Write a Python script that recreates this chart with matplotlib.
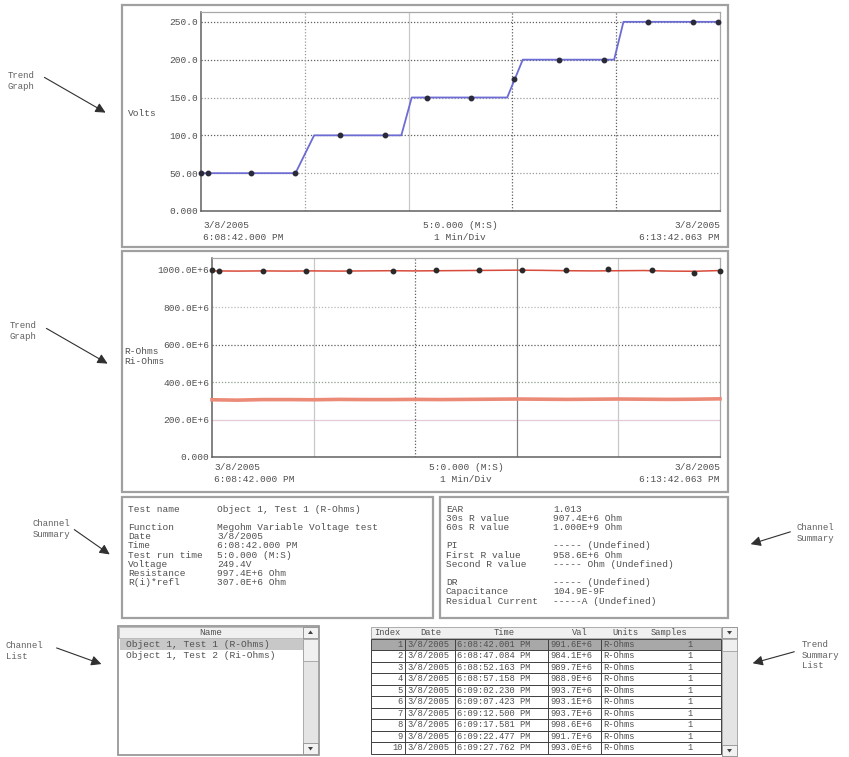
import matplotlib
matplotlib.use("Agg")
import matplotlib.pyplot as plt
from matplotlib.patches import Rectangle, Polygon

W, H = 849, 757
MONO = "Liberation Mono"

# ---------------- data ----------------
# Top trend graph (Volts vs minutes)
volt_line_t = [0.0, 0.91, 1.09, 1.93, 2.03, 2.95, 3.10, 3.98, 4.07, 5.0]
volt_line_v = [50, 50, 100, 100, 150, 150, 200, 200, 250, 250]
volt_pts_t = [0.0, 0.07, 0.48, 0.91, 1.34, 1.77, 2.18, 2.60, 3.02, 3.45, 3.88, 4.31, 4.74, 4.98]
volt_pts_v = [50, 50, 50, 50, 100, 100, 150, 150, 174, 200, 200, 250, 250, 250]
volt_yticks = [0, 50, 100, 150, 200, 250]
volt_ylabels = ["0.000", "50.00", "100.0", "150.0", "200.0", "250.0"]

# Second trend graph (Ohms, in units of 1e6)
r_line_t = [0.0, 0.25, 0.5, 0.75, 1.0, 1.25, 1.5, 1.75, 2.0, 2.25, 2.5,
            2.75, 3.0, 3.25, 3.5, 3.75, 4.0, 4.25, 4.5, 4.75, 5.0]
r_line_v = [995, 994, 995, 994, 995, 994, 995, 996, 995, 996, 997,
            998, 999, 998, 996, 995, 996, 997, 994, 993, 997]
ri_line_v = [306, 304, 307, 307, 306, 308, 307, 307, 308, 307, 308,
             309, 310, 309, 308, 309, 310, 309, 308, 309, 311]
r_pts_t = [0.0, 0.07, 0.50, 0.93, 1.35, 1.78, 2.20, 2.63, 3.05, 3.48, 3.90, 4.33, 4.74, 5.0]
r_pts_v = [998, 997, 996, 997, 996, 995, 998, 1000, 1001, 1000, 1003, 1001, 985, 997]
ohm_yticks = [0, 200, 400, 600, 800, 1000]
ohm_ylabels = ["0.000", "200.0E+6", "400.0E+6", "600.0E+6", "800.0E+6", "1000.0E+6"]

x_start = ["3/8/2005", "6:08:42.000 PM"]
x_mid = ["5:0.000 (M:S)", "1 Min/Div"]
x_end = ["3/8/2005", "6:13:42.063 PM"]

summary_left_labels = ["Test name", "", "Function", "Date", "Time", "Test run time",
                       "Voltage", "Resistance", "R(i)*refl"]
summary_left_values = ["Object 1, Test 1 (R-Ohms)", "", "Megohm Variable Voltage test",
                       "3/8/2005", "6:08:42.000 PM", "5:0.000 (M:S)", "249.4V",
                       "997.4E+6 Ohm", "307.0E+6 Ohm"]
summary_right_labels = ["EAR", "30s R value", "60s R value", "", "PI", "First R value",
                        "Second R value", "", "DR", "Capacitance", "Residual Current"]
summary_right_values = ["1.013", "907.4E+6 Ohm", "1.000E+9 Ohm", "", "----- (Undefined)",
                        "958.6E+6 Ohm", "----- Ohm (Undefined)", "", "----- (Undefined)",
                        "104.9E-9F", "-----A (Undefined)"]

channel_names = ["Object 1, Test 1 (R-Ohms)", "Object 1, Test 2 (Ri-Ohms)"]

tbl_header = ["Index", "Date", "Time", "Val", "Units", "Samples"]
tbl_index = [1, 2, 3, 4, 5, 6, 7, 8, 9, 10]
tbl_date = ["3/8/2005"] * 10
tbl_time = ["6:08:42.001 PM", "6:08:47.084 PM", "6:08:52.163 PM", "6:08:57.158 PM",
            "6:09:02.230 PM", "6:09:07.423 PM", "6:09:12.500 PM", "6:09:17.581 PM",
            "6:09:22.477 PM", "6:09:27.762 PM"]
tbl_val = ["991.6E+6", "984.1E+6", "989.7E+6", "988.9E+6", "993.7E+6",
           "993.1E+6", "993.7E+6", "998.6E+6", "991.7E+6", "993.0E+6"]
tbl_units = ["R-Ohms"] * 10
tbl_samples = [1] * 10

# ---------------- figure ----------------
fig = plt.figure(figsize=(W / 100, H / 100), dpi=100)
fig.patch.set_facecolor("white")

bg = fig.add_axes([0, 0, 1, 1], zorder=0)
bg.set_xlim(0, W)
bg.set_ylim(H, 0)
bg.axis("off")


def add_ax(x0, y0, x1, y1):
    return fig.add_axes([x0 / W, 1 - y1 / H, (x1 - x0) / W, (y1 - y0) / H], zorder=2)


def frame(x0, y0, x1, y1, ec="#a0a0a0", lw=1.6):
    bg.add_patch(Rectangle((x0, y0), x1 - x0, y1 - y0, fill=False, ec=ec, lw=lw, zorder=1))


def style_plot(ax):
    ax.set_facecolor("white")
    for s in ("left", "bottom"):
        ax.spines[s].set_color("#606060")
        ax.spines[s].set_linewidth(1.1)
    for s in ("top", "right"):
        ax.spines[s].set_color("#a8a8a8")
        ax.spines[s].set_linewidth(0.9)
    ax.tick_params(length=0, pad=2, labelsize=6.8, labelcolor="#505050")
    for lab in ax.get_yticklabels():
        lab.set_family(MONO)
    ax.set_xticks([])
    ax.set_xlim(0, 5)


TXT = dict(family=MONO, color="#505050", fontsize=6.8)
TBL = dict(family=MONO, color="#505050", fontsize=6.3)

# ---- panel frames ----
frame(122, 5, 728, 247)
frame(122, 251, 728, 492)
frame(122, 497, 433, 618)
frame(440, 497, 728, 618)

# ---- Top trend graph ----
ax1 = add_ax(201, 12, 720, 211)
ax1.set_ylim(0, 263)
ax1.set_yticks(volt_yticks)
ax1.set_yticklabels(volt_ylabels)
style_plot(ax1)
for y, c in zip(volt_yticks[1:], ["#9a9a9a", "#606060", "#9a9a9a", "#606060", "#606060"]):
    ax1.axhline(y, color=c, lw=0.9, ls=(0, (1, 1.5)), zorder=1)
for x, c, ls in zip([1, 2, 3, 4], ["#9a9a9a", "#c8c8c8", "#606060", "#606060"],
                    [(0, (1, 1.5)), "-", (0, (1, 1.5)), (0, (1, 1.5))]):
    ax1.axvline(x, color=c, lw=0.9, ls=ls, zorder=1)
ax1.plot(volt_line_t, volt_line_v, color="#6c6cd4", lw=1.3, zorder=3, clip_on=False)
ax1.plot(volt_pts_t, volt_pts_v, "o", color="#2a2a3a", ms=3.2, zorder=4, clip_on=False)
bg.text(128, 113, "Volts", ha="left", va="center", **TXT)
bg.text(203, 226, x_start[0], ha="left", va="center", **TXT)
bg.text(203, 238, x_start[1], ha="left", va="center", **TXT)
bg.text(460, 226, x_mid[0], ha="center", va="center", **TXT)
bg.text(460, 238, x_mid[1], ha="center", va="center", **TXT)
bg.text(720, 226, x_end[0], ha="right", va="center", **TXT)
bg.text(720, 238, x_end[1], ha="right", va="center", **TXT)

# ---- Second trend graph ----
ax2 = add_ax(212, 258, 720, 457)
ax2.set_ylim(0, 1064)
ax2.set_yticks(ohm_yticks)
ax2.set_yticklabels(ohm_ylabels)
style_plot(ax2)
for y, c, ls in zip(ohm_yticks[1:5], ["#e6c8d6", "#8aa08a", "#606060", "#b8b8b8"],
                    ["-", (0, (1, 1.5)), (0, (1, 1.5)), (0, (1, 1.5))]):
    ax2.axhline(y, color=c, lw=0.9, ls=ls, zorder=1)
for x, c, ls in zip([1, 2, 3, 4], ["#c8c8c8", "#606060", "#808080", "#c8c8c8"],
                    ["-", (0, (1, 1.5)), "-", "-"]):
    ax2.axvline(x, color=c, lw=0.9, ls=ls, zorder=1)
ax2.plot(r_line_t, ri_line_v, color="#ec8a78", lw=2.6, zorder=3, clip_on=False)
ax2.plot(r_line_t, r_line_v, color="#d84a3a", lw=1.1, zorder=3, clip_on=False)
ax2.plot(r_pts_t, r_pts_v, "o", color="#2a2a2a", ms=3.2, zorder=4, clip_on=False)
bg.text(124, 352, "R-Ohms", ha="left", va="center", **TXT)
bg.text(124, 362, "Ri-Ohms", ha="left", va="center", **TXT)
bg.text(214, 468, x_start[0], ha="left", va="center", **TXT)
bg.text(214, 480, x_start[1], ha="left", va="center", **TXT)
bg.text(466, 468, x_mid[0], ha="center", va="center", **TXT)
bg.text(466, 480, x_mid[1], ha="center", va="center", **TXT)
bg.text(720, 468, x_end[0], ha="right", va="center", **TXT)
bg.text(720, 480, x_end[1], ha="right", va="center", **TXT)

# ---- Channel summary text ----
for i, (lab, val) in enumerate(zip(summary_left_labels, summary_left_values)):
    y = 509 + i * 9.2
    bg.text(128, y, lab, ha="left", va="center", **TXT)
    bg.text(217, y, val, ha="left", va="center", **TXT)
for i, (lab, val) in enumerate(zip(summary_right_labels, summary_right_values)):
    y = 509 + i * 9.2
    bg.text(446, y, lab, ha="left", va="center", **TXT)
    bg.text(553, y, val, ha="left", va="center", **TXT)

# ---- Channel list ----
frame(118, 626, 319, 755, ec="#909090", lw=1.2)
bg.add_patch(Rectangle((119, 627), 184, 11, fc="#f0f0f0", ec="#b0b0b0", lw=0.6, zorder=2))
bg.text(211, 632.5, "Name", ha="center", va="center", **TXT)
bg.add_patch(Rectangle((120, 639), 183, 11, fc="#c8c8c8", ec="none", zorder=2))
for i, name in enumerate(channel_names):
    bg.text(126, 644.5 + i * 11.5, name, ha="left", va="center", zorder=3, **TXT)
# scrollbar
bg.add_patch(Rectangle((303, 627), 15, 127, fc="#e4e4e4", ec="#a0a0a0", lw=0.6, zorder=2))
bg.add_patch(Rectangle((303, 627), 15, 11, fc="#f2f2f2", ec="#909090", lw=0.6, zorder=3))
bg.add_patch(Rectangle((303, 639), 15, 22, fc="#f0f0f0", ec="#a0a0a0", lw=0.6, zorder=3))
bg.add_patch(Rectangle((303, 743), 15, 11, fc="#f2f2f2", ec="#909090", lw=0.6, zorder=3))
bg.add_patch(Polygon([(308, 634), (313, 634), (310.5, 630.5)], fc="#404040", ec="none", zorder=4))
bg.add_patch(Polygon([(308, 747), (313, 747), (310.5, 750.5)], fc="#404040", ec="none", zorder=4))

# ---- Trend summary table ----
col_edges = [371, 405, 455, 548, 601, 650, 721]
row_h = 11.5
y_top = 627
bg.add_patch(Rectangle((371, y_top), 350, 11, fc="#f0f0f0", ec="#a0a0a0", lw=0.6, zorder=2))
head_x = [374, 420, 494, 572, 612, 651]
for x, t in zip(head_x, tbl_header):
    bg.text(x, y_top + 5.5, t, ha="left", va="center", **TBL)
for r in range(len(tbl_index)):
    y0 = y_top + 11.5 + r * row_h
    fc = "#a8a8a8" if r == 0 else "white"
    bg.add_patch(Rectangle((371, y0), 350, row_h, fc=fc, ec="#404040", lw=0.7, zorder=2))
    yc = y0 + row_h / 2
    cells = [(col_edges[1] - 2, str(tbl_index[r]), "right"),
             (col_edges[1] + 2, tbl_date[r], "left"),
             (col_edges[2] + 2, tbl_time[r], "left"),
             (col_edges[3] + 2, tbl_val[r], "left"),
             (col_edges[4] + 2, tbl_units[r], "left"),
             (690, str(tbl_samples[r]), "center")]
    for x, t, ha in cells:
        bg.text(x, yc, t, ha=ha, va="center", zorder=3, **TBL)
    for xe in col_edges[1:5]:
        bg.plot([xe, xe], [y0, y0 + row_h], color="#404040", lw=0.7, zorder=3)
# table scrollbar
bg.add_patch(Rectangle((722, 627), 15, 130, fc="#e4e4e4", ec="#a0a0a0", lw=0.6, zorder=2))
bg.add_patch(Rectangle((722, 627), 15, 11, fc="#f2f2f2", ec="#909090", lw=0.6, zorder=3))
bg.add_patch(Rectangle((722, 639), 15, 12, fc="#f0f0f0", ec="#a0a0a0", lw=0.6, zorder=3))
bg.add_patch(Rectangle((722, 745), 15, 11, fc="#f2f2f2", ec="#909090", lw=0.6, zorder=3))
bg.add_patch(Polygon([(727, 631), (732, 631), (729.5, 634.5)], fc="#404040", ec="none", zorder=4))
bg.add_patch(Polygon([(727, 749), (732, 749), (729.5, 752.5)], fc="#404040", ec="none", zorder=4))

# ---- callout annotations ----
ANN = dict(family=MONO, color="#606060", fontsize=6.5)
ARW = dict(arrowstyle="-|>,head_length=0.6,head_width=0.3", color="#303030", lw=0.8)
callouts = [
    ("Trend\nGraph", 8, 81, "left", (42, 76), (108, 114)),
    ("Trend\nGraph", 10, 331, "left", (44, 327), (110, 365)),
    ("Channel\nSummary", 33, 529, "left", (72, 528), (112, 556)),
    ("Channel\nList", 6, 651, "left", (54, 647), (104, 665)),
    ("Channel\nSummary", 797, 533, "left", (793, 531), (748, 545)),
    ("Trend\nSummary\nList", 802, 655, "left", (797, 651), (750, 664)),
]
for txt, tx, ty, ha, p0, p1 in callouts:
    bg.text(tx, ty, txt, ha=ha, va="center", linespacing=1.15, **ANN)
    bg.annotate("", xy=p1, xytext=p0, xycoords="data", textcoords="data", arrowprops=ARW)

fig.savefig("out.png", dpi=100, facecolor="white")
